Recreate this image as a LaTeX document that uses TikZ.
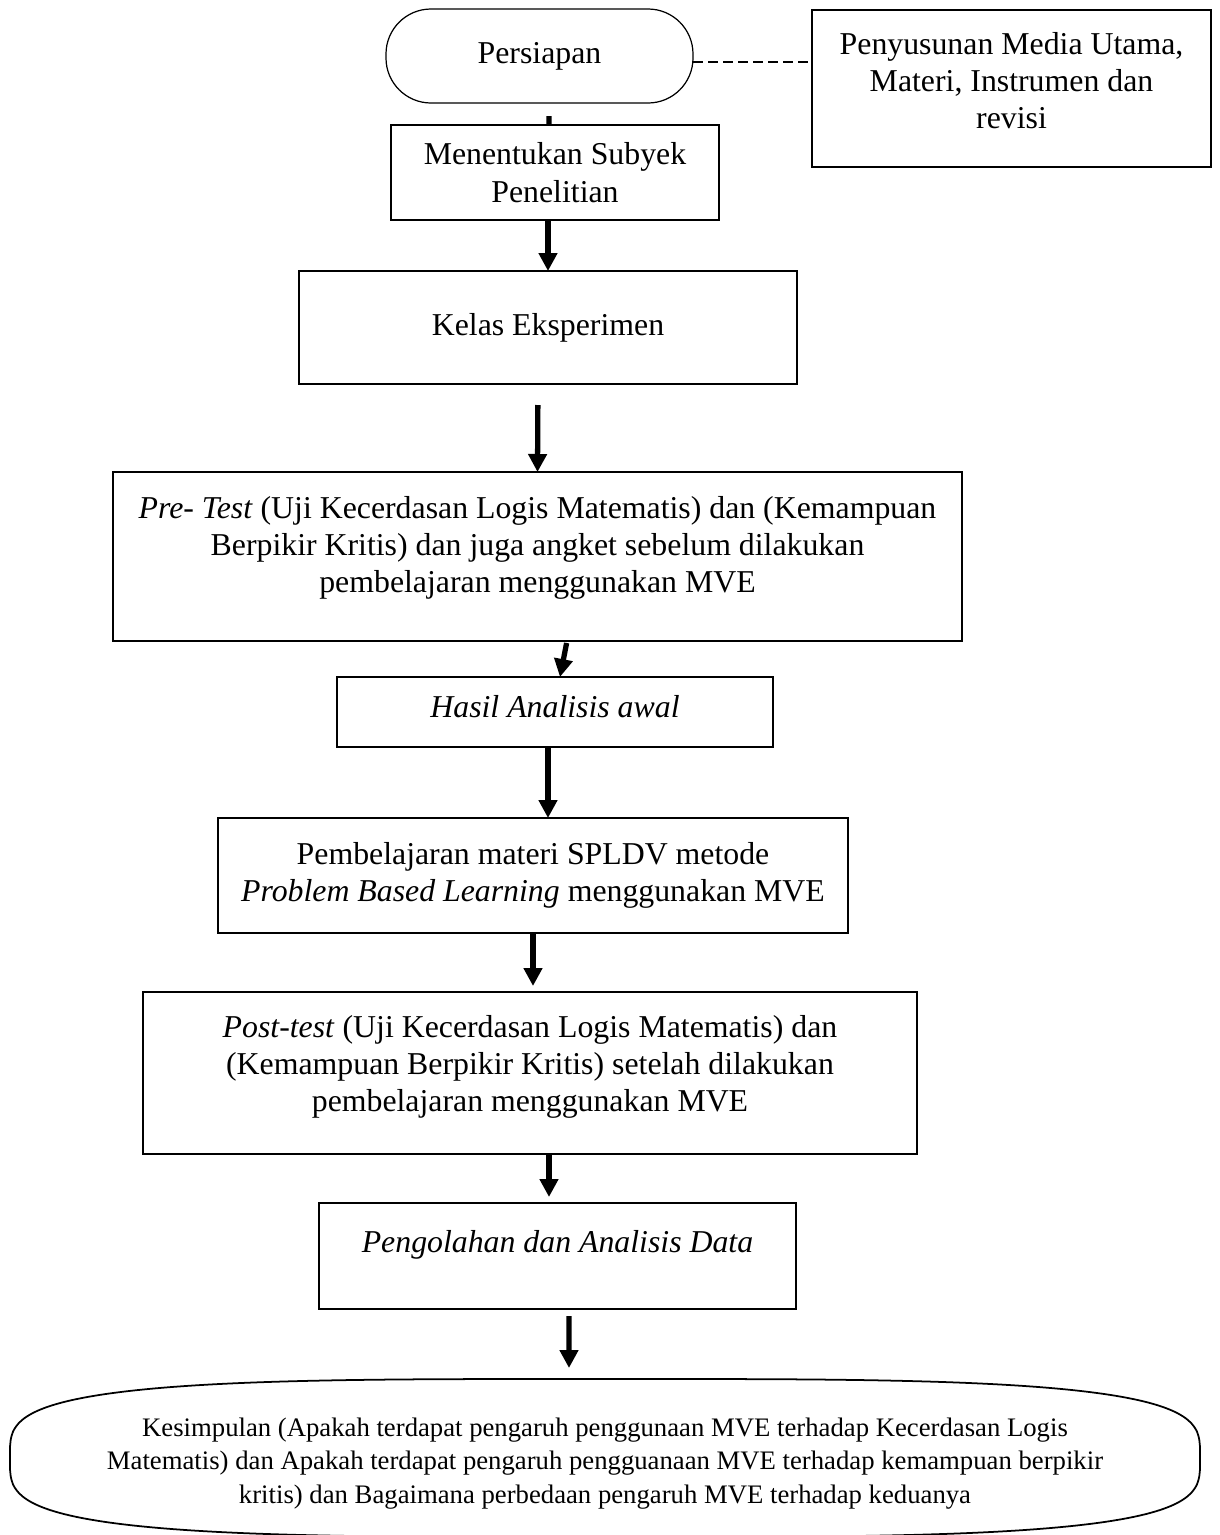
\documentclass[tikz,border=0pt]{standalone}
\usepackage{fontspec}
\setmainfont{Liberation Serif}
\usepackage{tikz}
\usetikzlibrary{positioning,arrows.meta}

% lift the text inside a box without changing its size
\newcommand{\naik}[2]{\raisebox{#1}[\height][\depth]{\begin{tabular}{@{}c@{}}#2\end{tabular}}}

\begin{document}
\begin{tikzpicture}[
  node distance=1cm,
  box/.style={rectangle, draw, line width=0.7pt, outer sep=0pt, align=center, font=\fontsize{18.1}{21.3}\selectfont},
  mulai/.style={box, rounded corners=0.9cm},
  akhir/.style={rectangle, outer sep=0pt, align=center, minimum width=23.8cm, minimum height=3.16cm, font=\fontsize{15.2}{19}\selectfont},
  panah/.style={-{Triangle[width=0.36cm,length=0.36cm]}, line width=3pt},
  putus/.style={dash pattern=on 0.2cm off 0.1cm, line width=0.7pt}
]
\useasboundingbox (0,0) rectangle (24.38,-30.7);

\node[mulai, minimum width=6.14cm, minimum height=1.88cm] (persiapan) at (10.79,-1.12) {Persiapan};

\node[box, minimum width=7.98cm, minimum height=3.14cm, right=2.38cm of persiapan, yshift=-0.65cm] (penyusunan) {\naik{0.09cm}{Penyusunan Media Utama,\\ Materi, Instrumen dan\\ revisi}};
\draw[putus] ([yshift=-0.12cm]persiapan.east) -- ([yshift=0.53cm]penyusunan.west);

\node[box, minimum width=6.56cm, minimum height=1.9cm, below=0.44cm of persiapan, xshift=0.31cm] (subyek) {Menentukan Subyek\\ Penelitian};
\draw[line width=3pt, shorten <=0.26cm] ([xshift=0.19cm]persiapan.south) -- ([xshift=-0.12cm]subyek.north);

\node[box, minimum width=9.96cm, minimum height=2.26cm, below=1.02cm of subyek, xshift=-0.14cm] (eksperimen) {Kelas Eksperimen};
\draw[panah] ([xshift=-0.14cm]subyek.south) -- (eksperimen.north);

\node[box, minimum width=16.98cm, minimum height=3.38cm, below=1.76cm of eksperimen, xshift=-0.21cm] (pretest) {\naik{0.17cm}{\textit{Pre- Test} (Uji Kecerdasan Logis Matematis) dan (Kemampuan\\ Berpikir Kritis) dan juga angket sebelum dilakukan\\ pembelajaran menggunakan MVE}};
\draw[panah, shorten <=0.42cm] ([xshift=-0.2cm]eksperimen.south) -- (pretest.north);

\node[box, minimum width=8.72cm, minimum height=1.4cm, below=0.72cm of pretest, xshift=0.35cm] (awal) {\naik{0.04cm}{\textit{Hasil Analisis awal}}};
\draw[panah, shorten <=0.04cm] ([xshift=0.59cm]pretest.south) -- ([xshift=0.1cm]awal.north);

\node[box, minimum width=12.6cm, minimum height=2.3cm, below=1.42cm of awal, xshift=-0.44cm] (pbl) {Pembelajaran materi SPLDV metode\\ \textit{Problem Based Learning} menggunakan MVE};
\draw[panah] ([xshift=-0.14cm]awal.south) -- ([xshift=0.3cm]pbl.north);

\node[box, minimum width=15.48cm, minimum height=3.24cm, below=1.18cm of pbl, xshift=-0.06cm] (posttest) {\naik{0.12cm}{\textit{Post-test} (Uji Kecerdasan Logis Matematis) dan\\ (Kemampuan Berpikir Kritis) setelah dilakukan\\ pembelajaran menggunakan MVE}};
\draw[panah, shorten >=0.12cm] (pbl.south) -- ([xshift=0.06cm]posttest.north);

\node[box, minimum width=9.54cm, minimum height=2.12cm, below=0.98cm of posttest, xshift=0.55cm] (olah) {\naik{0.22cm}{\textit{Pengolahan dan Analisis Data}}};
\draw[panah, shorten >=0.12cm] ([xshift=0.38cm]posttest.south) -- ([xshift=-0.17cm]olah.north);

\node[akhir, below=1.4cm of olah, xshift=0.95cm] (kesimpulan) {\naik{-0.1cm}{Kesimpulan (Apakah terdapat pengaruh penggunaan MVE terhadap Kecerdasan Logis\\ Matematis) dan Apakah terdapat pengaruh pengguanaan MVE terhadap kemampuan berpikir\\ kritis) dan Bagaimana perbedaan pengaruh MVE terhadap keduanya}};
\draw[line width=1pt, shift={(kesimpulan.center)}] plot[domain=0:360, samples=361, variable=\t] ({11.9*sign(cos(\t))*pow(abs(cos(\t)),0.556)}, {1.58*sign(sin(\t))*pow(abs(sin(\t)),0.556)}) -- cycle;
\draw[panah, shorten <=0.14cm, shorten >=0.22cm] ([xshift=0.23cm]olah.south) -- ([xshift=-0.72cm]kesimpulan.north);

\end{tikzpicture}
\end{document}
